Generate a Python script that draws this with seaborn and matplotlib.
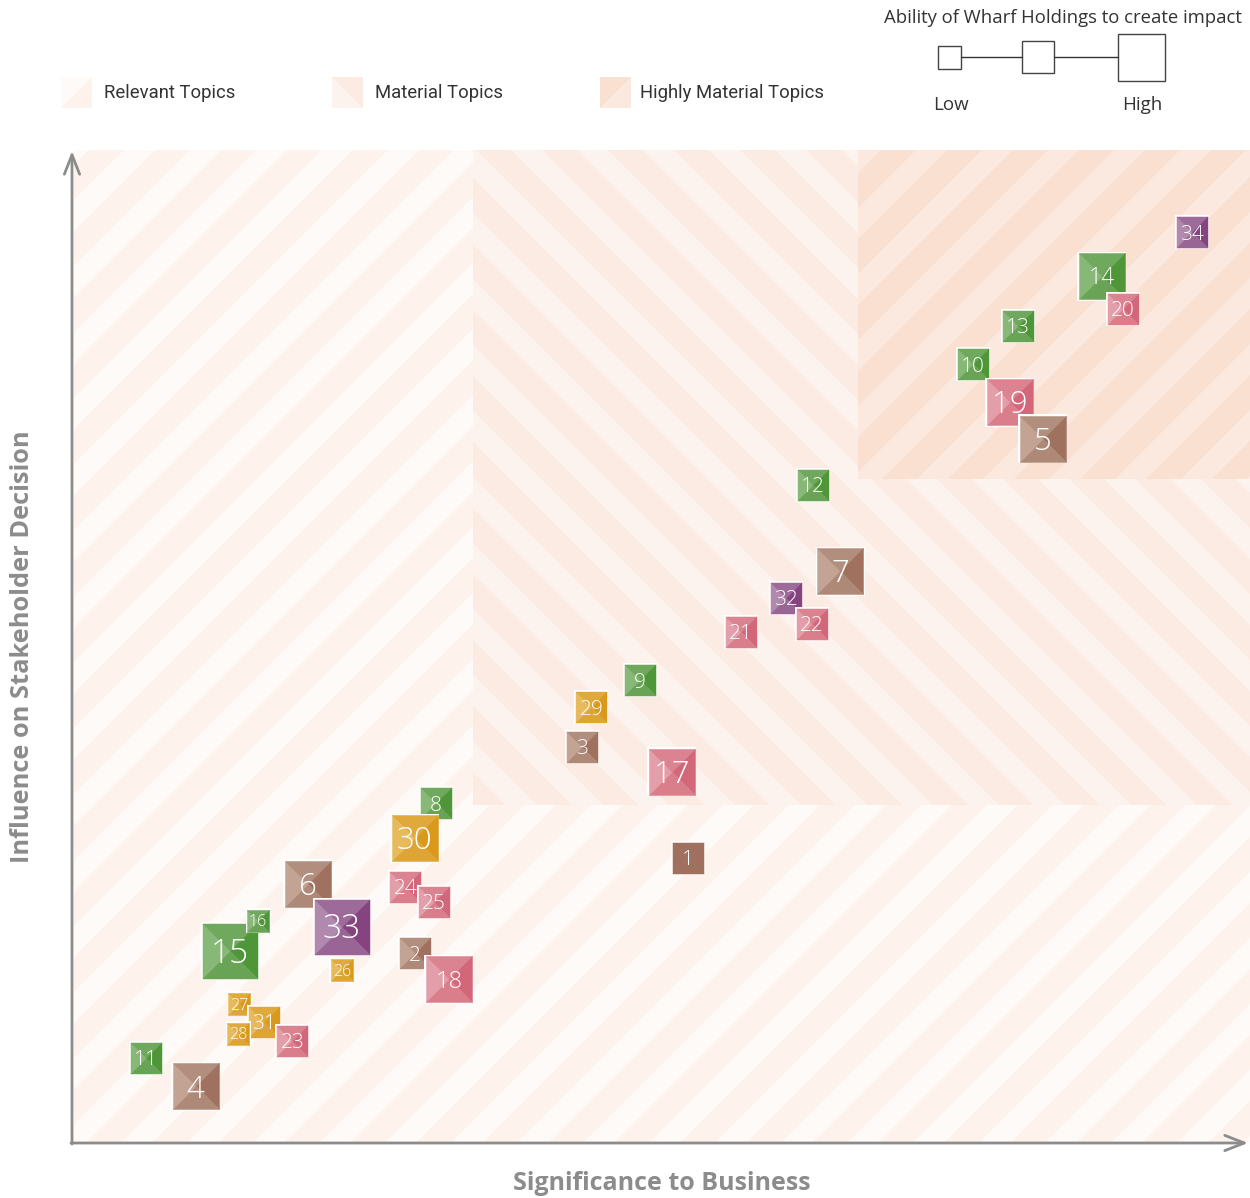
import numpy as np
import pandas as pd
import matplotlib
matplotlib.use("Agg")
import matplotlib.pyplot as plt
import matplotlib.lines as mlines
import seaborn as sns
from matplotlib.path import Path
from matplotlib.markers import MarkerStyle
from matplotlib.patches import Rectangle, Polygon, FancyArrowPatch
from matplotlib.collections import PolyCollection
from matplotlib.transforms import Affine2D, ScaledTranslation

# ---------------- data ----------------
topics = list(range(1, 35))
significance = [52.3, 29.1, 43.3, 10.5, 82.4, 20.0, 65.2, 30.9, 48.2, 76.5,
                6.3, 62.9, 80.3, 87.4, 13.4, 15.8, 50.9, 32.0, 79.6, 89.2,
                56.8, 62.8, 18.7, 28.3, 30.7, 22.9, 14.2, 14.1, 44.1, 29.1,
                16.3, 60.6, 22.9, 95.1]
influence = [28.7, 19.1, 39.9, 5.7, 70.9, 26.1, 57.6, 34.2, 46.6, 78.4,
             8.6, 66.3, 82.3, 87.3, 19.3, 22.4, 37.4, 16.5, 74.6, 84.0,
             51.5, 52.3, 10.3, 25.8, 24.3, 17.4, 14.0, 11.0, 43.9, 30.7,
             12.2, 54.9, 21.8, 91.7]
category = (['brown_dark'] + ['brown'] * 6 + ['green'] * 9 + ['pink'] * 9
            + ['gold'] * 6 + ['purple'] * 3)
impact = [2, 2, 2, 3, 3, 3, 3, 2, 2, 2, 2, 2, 2, 3, 4, 1, 3, 3, 3, 2,
          2, 2, 2, 2, 2, 1, 1, 1, 2, 3, 2, 2, 4, 2]

region_names = ["Relevant Topics", "Material Topics", "Highly Material Topics"]
material_threshold = 34.0
highly_threshold_x = 66.7
highly_threshold_y = 66.9

x_label = "Significance to Business"
y_label = "Influence on Stakeholder Decision"
size_title = "Ability of Wharf Holdings to create impact"
size_labels = ["Low", "High"]

df = pd.DataFrame(dict(topic=topics, x=significance, y=influence,
                       group=category, impact=impact))

# ---------------- style ----------------
W, H, DPI = 1250, 1198, 100
SIDE_PX = {1: 22, 2: 31, 3: 46, 4: 55}
LABEL_PT = {1: 11.5, 2: 15, 3: 22.5, 4: 24}
LABEL_OVERRIDE = {14: 16.5, 18: 17}
SHADES = {
    'green':  dict(left='#88b877', top='#70a85e', right='#4f9638', bottom='#69a456'),
    'pink':   dict(left='#e39fa9', top='#db8391', right='#d3677a', bottom='#da7e8c'),
    'brown':  dict(left='#c3a394', top='#b28e7e', right='#9f715e', bottom='#af8978'),
    'brown_dark': dict(left='#9e705d', top='#9e705d', right='#9e705d', bottom='#9e705d'),
    'purple': dict(left='#b189ae', top='#9d6b99', right='#85437f', bottom='#996595'),
    'gold':   dict(left='#e7bb5c', top='#e0a93c', right='#d99a1c', bottom='#dea536'),
}
REGION = {
    'relevant': ('#fdf2ec', '#fefaf8'),
    'material': ('#fbebe2', '#fcf3ee'),
    'highly':   ('#f9e0d1', '#fbe9df'),
}
AXIS_GRAY = '#8c8c8c'
TEXT_DARK = '#333333'

sns.set_theme(style="white")
plt.rcParams['font.family'] = ['Open Sans', 'DejaVu Sans']

fig = plt.figure(figsize=(W / DPI, H / DPI), dpi=DPI)
fig.patch.set_facecolor('white')
ax = fig.add_axes([72 / W, 55 / H, 1 - 72 / W, (1143 - 150) / H])
ax.set_xlim(0, 100)
ax.set_ylim(0, 100)
ax.axis('off')

# pixel transform: (x px from left, y px from top) -> display
PIX = Affine2D().scale(1, -1).translate(0, H)


def striped_region(x0, y0, x1, y1, base, light, direction, phase, z,
                   period=66, width=31):
    rect = Rectangle((x0, y0), x1 - x0, y1 - y0, transform=ax.transData,
                     facecolor=base, edgecolor='none', zorder=z)
    ax.add_patch(rect)
    polys = []
    n0 = int(np.ceil(2 * H / period)) + 1
    start = phase - n0 * period
    for c in np.arange(start, W + 2 * H, period):
        if direction == '/':
            polys.append([(c, 0), (c + width, 0), (c + width - H, H), (c - H, H)])
        else:
            polys.append([(c, 0), (c + width, 0), (c + width + H, H), (c + H, H)])
    coll = PolyCollection(polys, facecolors=light, edgecolors='none',
                          transform=PIX, zorder=z + 0.1)
    ax.add_collection(coll, autolim=False)
    coll.set_clip_path(rect)


striped_region(0.2, 0, 100, 100, *REGION['relevant'], '/', 10, 0.1)
striped_region(material_threshold, material_threshold, 100, 100,
               *REGION['material'], '\\', 31, 0.4)
striped_region(highly_threshold_x, highly_threshold_y, 100, 100,
               *REGION['highly'], '/', 10, 0.7)

# ---------------- markers ----------------
def tri(verts):
    return MarkerStyle(Path(verts + [verts[0]],
                            [Path.MOVETO, Path.LINETO, Path.LINETO, Path.CLOSEPOLY]))


TRI = {
    'left': tri([(-1, -1), (-1, 1), (0, 0)]),
    'top': tri([(-1, 1), (1, 1), (0, 0)]),
    'right': tri([(1, 1), (1, -1), (0, 0)]),
    'bottom': tri([(1, -1), (-1, -1), (0, 0)]),
}

order = df.sort_values('y', ascending=False)
order = pd.concat([order[order.topic != 16], order[order.topic == 16]])

z = 2.0
for _, r in order.iterrows():
    side = SIDE_PX[r['impact']]
    pt = side * 72 / DPI
    one = pd.DataFrame(dict(x=[r['x']], y=[r['y']]))
    sns.scatterplot(data=one, x='x', y='y', marker='s',
                    s=((side + 3) * 72 / DPI) ** 2, color='white',
                    edgecolor='none', linewidth=0, ax=ax, zorder=z, legend=False)
    for k in ('left', 'top', 'right', 'bottom'):
        col = SHADES[r['group']][k]
        sns.scatterplot(data=one, x='x', y='y', marker=TRI[k], s=pt ** 2,
                        color=col, edgecolor=col, linewidth=0.35, ax=ax,
                        zorder=z + 0.01, legend=False)
    fs = LABEL_OVERRIDE.get(r['topic'], LABEL_PT[r['impact']])
    off = ScaledTranslation(0, -fs * 0.357 / 72, fig.dpi_scale_trans)
    ax.text(r['x'], r['y'], str(r['topic']), transform=ax.transData + off,
            ha='center', va='baseline', color='white', fontsize=fs,
            fontweight='light', zorder=z + 0.02)
    z += 0.05

ax.set_xlabel('')
ax.set_ylabel('')

# ---------------- axes arrows ----------------
for a, b in [((72, 1144), (72, 151)), ((71, 1143), (1248, 1143))]:
    arr = FancyArrowPatch(a, b, transform=PIX,
                          arrowstyle='->,head_length=1.4,head_width=0.55',
                          mutation_scale=10, color=AXIS_GRAY, lw=2.0,
                          shrinkA=0, shrinkB=0, zorder=20)
    fig.add_artist(arr)

fig.text(662 / W, 1 - 1184 / H, x_label, ha='center', va='center',
         fontsize=18, fontweight='bold', color=AXIS_GRAY)
fig.text(23 / W, 1 - 647 / H, y_label, ha='center', va='center',
         rotation=90, fontsize=18.3, fontweight='bold', color=AXIS_GRAY)

# ---------------- region legend ----------------
swatches = [
    (61, REGION['relevant'], 'tl', 104),
    (332, REGION['material'], 'bl', 375),
    (600, REGION['highly'], 'br', 640),
]
for (x0, (base, light), corner, tx), name in zip(swatches, region_names):
    y0, s = 77, 31
    fig.add_artist(Polygon([(x0, y0), (x0 + s, y0), (x0 + s, y0 + s), (x0, y0 + s)],
                           closed=True, transform=PIX, facecolor=base,
                           edgecolor='none'))
    if corner == 'tl':
        tv = [(x0, y0), (x0 + s, y0), (x0, y0 + s)]
    elif corner == 'bl':
        tv = [(x0, y0), (x0 + s, y0 + s), (x0, y0 + s)]
    else:
        tv = [(x0 + s, y0), (x0 + s, y0 + s), (x0, y0 + s)]
    fig.add_artist(Polygon(tv, closed=True, transform=PIX, facecolor=light,
                           edgecolor='none'))
    fig.text(tx / W, 1 - 93 / H, name, ha='left', va='center', fontsize=13.3,
             color=TEXT_DARK,
             family=['Liberation Sans Narrow', 'Roboto', 'DejaVu Sans'])

# ---------------- size legend ----------------
fig.text(1063 / W, 1 - 18 / H, size_title, ha='center', va='center',
         fontsize=13.3, color=TEXT_DARK)
boxes = [(949.5, 57.5, 23), (1038, 57, 32), (1141.5, 57.5, 47)]
for cx, cy, s in boxes:
    h = s / 2
    fig.add_artist(Polygon([(cx - h, cy - h), (cx + h, cy - h), (cx + h, cy + h),
                            (cx - h, cy + h)], closed=True, transform=PIX,
                           facecolor='white', edgecolor='#444444', lw=1.0))
for (a, b) in [(boxes[0], boxes[1]), (boxes[1], boxes[2])]:
    fig.add_artist(mlines.Line2D([a[0] + a[2] / 2, b[0] - b[2] / 2],
                                 [57, 57], transform=PIX,
                                 color='#333333', lw=1.0))
fig.text(951 / W, 1 - 105 / H, size_labels[0], ha='center', va='center',
         fontsize=13.5, color=TEXT_DARK)
fig.text(1142 / W, 1 - 105 / H, size_labels[1], ha='center', va='center',
         fontsize=13.5, color=TEXT_DARK)

fig.savefig('out.png', dpi=DPI, facecolor='white')
